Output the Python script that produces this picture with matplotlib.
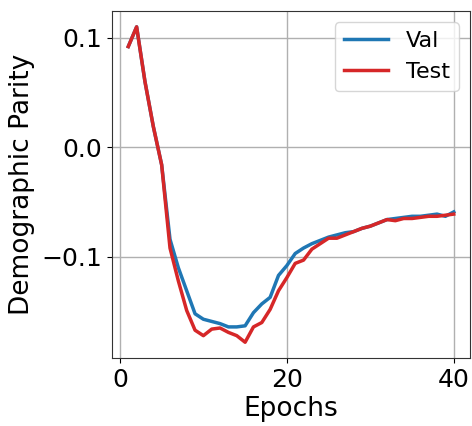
import matplotlib
matplotlib.use("Agg")
import matplotlib.pyplot as plt
import numpy as np

epochs = list(range(1, 41))
val = [0.092, 0.110, 0.060, 0.019, -0.016, -0.084, -0.110, -0.131, -0.152, -0.157,
       -0.159, -0.161, -0.164, -0.164, -0.163, -0.151, -0.143, -0.137, -0.117, -0.108,
       -0.097, -0.092, -0.088, -0.085, -0.082, -0.080, -0.078, -0.077, -0.074, -0.072,
       -0.069, -0.066, -0.065, -0.064, -0.063, -0.063, -0.062, -0.061, -0.063, -0.059]
test = [0.092, 0.110, 0.060, 0.019, -0.016, -0.092, -0.122, -0.149, -0.167, -0.172,
        -0.166, -0.165, -0.169, -0.172, -0.178, -0.164, -0.160, -0.148, -0.131, -0.119,
        -0.106, -0.103, -0.093, -0.088, -0.083, -0.083, -0.080, -0.077, -0.074, -0.072,
        -0.069, -0.066, -0.067, -0.065, -0.065, -0.064, -0.063, -0.063, -0.062, -0.061]

fig = plt.figure(figsize=(4.72, 4.26), dpi=100)
ax = fig.add_axes([0.2373, 0.1596, 0.7585, 0.8144])
ax.plot(epochs, val, color="#1f77b4", lw=2.5, label="Val")
ax.plot(epochs, test, color="#d62728", lw=2.5, label="Test")
ax.set_yticks([-0.1, 0.0, 0.1])
ax.set_xticks([0, 20, 40])
ax.grid(True, color="#b0b0b0", lw=1)
ax.tick_params(labelsize=18)
ax.set_xlabel("Epochs", fontsize=19, labelpad=3)
ax.set_ylabel("Demographic Parity", fontsize=19, labelpad=5)
for s in ax.spines.values():
    s.set_color("#333333")
ax.legend(loc="upper right", fontsize=16)
fig.savefig("out.png", dpi=100)
